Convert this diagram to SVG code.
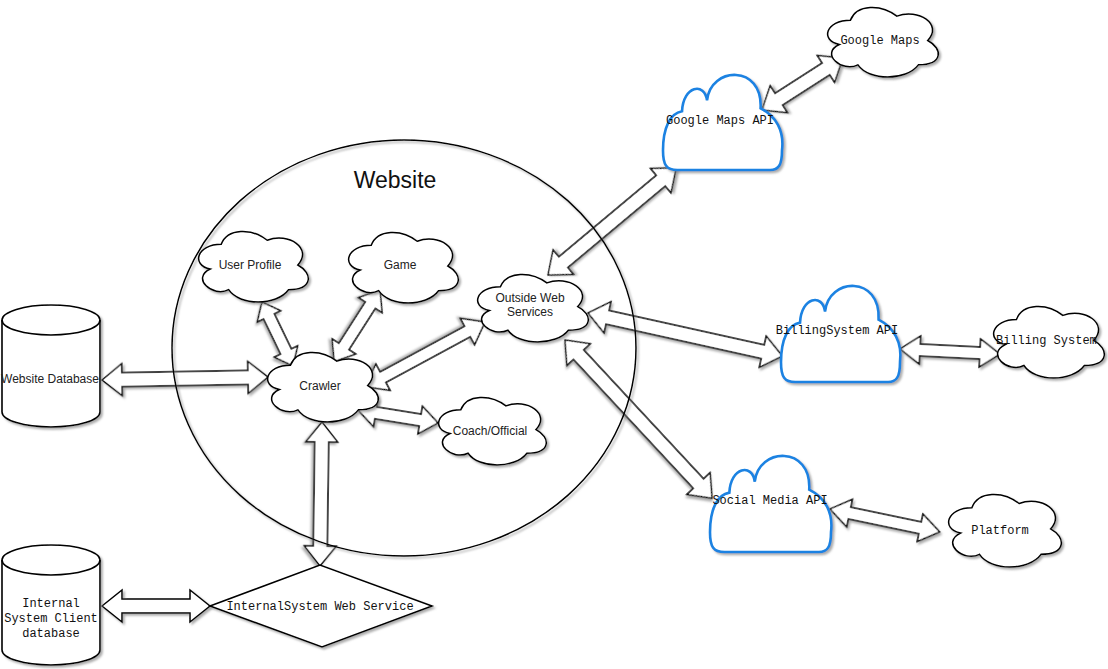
<svg xmlns="http://www.w3.org/2000/svg" xmlns:xlink="http://www.w3.org/1999/xlink" width="1108" height="669" viewBox="0 0 1108 669">
<style>
.sh{filter:url(#shadow)}
.cl{fill:#fff;stroke:#000;stroke-width:1.5}
.bl{fill:#fff;stroke:#1a82e2;stroke-width:2.6}
.ar{fill:#fff;stroke:#000;stroke-width:1.5;stroke-linejoin:miter}
.db{fill:#fff;stroke:#000;stroke-width:1.6}
.sans{font-family:"Liberation Sans",Arial,sans-serif;font-size:12px;fill:#222;text-anchor:middle}
.mono{font-family:"Liberation Mono","Courier New",monospace;font-size:12px;fill:#111;text-anchor:middle}
</style>
<defs>
<filter id="shadow" x="-20%" y="-20%" width="140%" height="140%">
<feDropShadow dx="2" dy="2" stdDeviation="0.8" flood-color="#777" flood-opacity="0.6"/>
</filter>
<symbol id="cloud" viewBox="0 0 100 100" preserveAspectRatio="none" overflow="visible">
<path vector-effect="non-scaling-stroke" d="M21.3,17.6 C-1.1,17.6 -6.7,47.1 11.2,52.9 C-6.7,65.9 13.5,94.1 28.1,82.4 C38.2,105.9 71.9,105.9 83.1,82.4 C105.6,82.4 105.6,58.8 91.6,47.1 C105.6,23.5 83.1,0 63.5,11.8 C49.4,-5.9 27,-5.9 21.3,17.6 Z"/>
</symbol>
<symbol id="bcloud" viewBox="0 0 100 100" preserveAspectRatio="none" overflow="visible">
<path vector-effect="non-scaling-stroke" d="M16,40 C17,14 35,10 37,29 C40,-6 84,-8 82,37 C95,45 102,60 100,80 C100,95 97,100 90,100 L12,100 C3,100 0,95 0,80 C0,57 6,42 16,40 Z"/>
</symbol>
</defs>
<rect width="1108" height="669" fill="#fff"/>

<g id="connectors">
<polygon class="ar sh" transform="translate(102,380) rotate(-1)" points="0,0 20,-16 20,-7 146,-7 146,-16 166,0 146,16 146,7 20,7 20,16"/>
<polygon class="ar sh" transform="translate(262,302) rotate(64.2)" points="0,0 16,-13 16,-6 55,-6 55,-13 71,0 55,13 55,6 16,6 16,13"/>
<polygon class="ar sh" transform="translate(380,290) rotate(122.6)" points="0,0 18,-14 18,-6 67,-6 67,-14 85,0 67,14 67,6 18,6 18,14"/>
<polygon class="ar sh" transform="translate(485,322) rotate(151.6)" points="0,0 20,-15 20,-6 116,-6 116,-15 136,0 116,15 116,6 20,6 20,15"/>
<polygon class="ar sh" transform="translate(358,410) rotate(9.2)" points="0,0 18,-14 18,-6 63,-6 63,-14 81,0 63,14 63,6 18,6 18,14"/>
<polygon class="ar sh" transform="translate(322,422) rotate(90.8)" points="0,0 20,-16 20,-7 124,-7 124,-16 144,0 124,16 124,7 20,7 20,16"/>
<polygon class="ar sh" transform="translate(102,606)" points="0,0 20,-16 20,-7 88,-7 88,-16 108,0 88,16 88,7 20,7 20,16"/>
<polygon class="ar sh" transform="translate(548,275) rotate(-39.9)" points="0,0 20,-16 20,-7 147,-7 147,-16 167,0 147,16 147,7 20,7 20,16"/>
<polygon class="ar sh" transform="translate(588,313) rotate(12.5)" points="0,0 20,-16 20,-7 179,-7 179,-16 199,0 179,16 179,7 20,7 20,16"/>
<polygon class="ar sh" transform="translate(565,340) rotate(47.1)" points="0,0 20,-16 20,-7 196,-7 196,-16 216,0 196,16 196,7 20,7 20,16"/>
<polygon class="ar sh" transform="translate(762,110) rotate(-32.7)" points="0,0 20,-16 20,-7 76,-7 76,-16 96,0 76,16 76,7 20,7 20,16"/>
<polygon class="ar sh" transform="translate(900,349) rotate(2.9)" points="0,0 20,-14 20,-6 80,-6 80,-14 100,0 80,14 80,6 20,6 20,14"/>
<polygon class="ar sh" transform="translate(830,509) rotate(11.8)" points="0,0 20,-14 20,-6 92,-6 92,-14 112,0 92,14 92,6 20,6 20,14"/>
</g>

<g id="website">
<ellipse class="sh" cx="404" cy="348" rx="232" ry="208" fill="none" stroke="#000" stroke-width="1.5"/>
<text x="395" y="188" font-family="Liberation Sans, Arial, sans-serif" font-size="23" fill="#111" text-anchor="middle">Website</text>
</g>

<g id="user-profile">
<use href="#cloud" class="cl sh" x="198" y="232" width="109" height="70"/>
<text class="sans" x="250" y="269">User Profile</text>
</g>
<g id="game">
<use href="#cloud" class="cl sh" x="348" y="233" width="109" height="70"/>
<text class="sans" x="400" y="269">Game</text>
</g>
<g id="outside-web-services">
<use href="#cloud" class="cl sh" x="477" y="275" width="110" height="67"/>
<text class="sans" x="530" y="302">Outside Web</text>
<text class="sans" x="530" y="316">Services</text>
</g>
<g id="crawler">
<use href="#cloud" class="cl sh" x="267" y="353" width="110" height="69"/>
<text class="sans" x="320" y="390">Crawler</text>
</g>
<g id="coach-official">
<use href="#cloud" class="cl sh" x="438" y="398" width="107" height="67"/>
<text class="sans" x="490" y="435">Coach/Official</text>
</g>

<g id="website-database">
<path class="db sh" d="M2,320 A49,15 0 0 1 100,320 L100,412 A49,15 0 0 1 2,412 Z"/>
<path d="M2,320 A49,15 0 0 0 100,320" fill="none" stroke="#000" stroke-width="1.6"/>
<text class="sans" x="50" y="383">Website Database</text>
</g>

<g id="internal-db">
<path class="db sh" d="M2,560 A49,15 0 0 1 100,560 L100,650 A49,15 0 0 1 2,650 Z"/>
<path d="M2,560 A49,15 0 0 0 100,560" fill="none" stroke="#000" stroke-width="1.6"/>
<text class="mono" x="51" y="607">Internal</text>
<text class="mono" x="51" y="622">System Client</text>
<text class="mono" x="51" y="637">database</text>
</g>

<g id="internal-web-service">
<polygon class="db sh" points="210,606 320,565 432,606 322,647"/>
<text class="mono" x="320" y="610">InternalSystem Web Service</text>
</g>

<g id="google-maps-api">
<use href="#bcloud" class="bl sh" x="663" y="72" width="119" height="98"/>
<text class="mono" x="720" y="124">Google Maps API</text>
</g>
<g id="google-maps">
<use href="#cloud" class="cl sh" x="827" y="8" width="110" height="69"/>
<text class="mono" x="880" y="44">Google Maps</text>
</g>
<g id="billingsystem-api">
<use href="#bcloud" class="bl sh" x="781" y="283" width="119" height="99"/>
<text class="mono" x="837" y="334">BillingSystem API</text>
</g>
<g id="billing-system">
<use href="#cloud" class="cl sh" x="993" y="307" width="110" height="71"/>
<text class="mono" x="996" y="344" style="text-anchor:start">Billing System</text>
</g>
<g id="social-media-api">
<use href="#bcloud" class="bl sh" x="710" y="453" width="121" height="99"/>
<text class="mono" x="770" y="504">Social Media API</text>
</g>
<g id="platform">
<use href="#cloud" class="cl sh" x="948" y="495" width="112" height="72"/>
<text class="mono" x="1000" y="534">Platform</text>
</g>
</svg>
